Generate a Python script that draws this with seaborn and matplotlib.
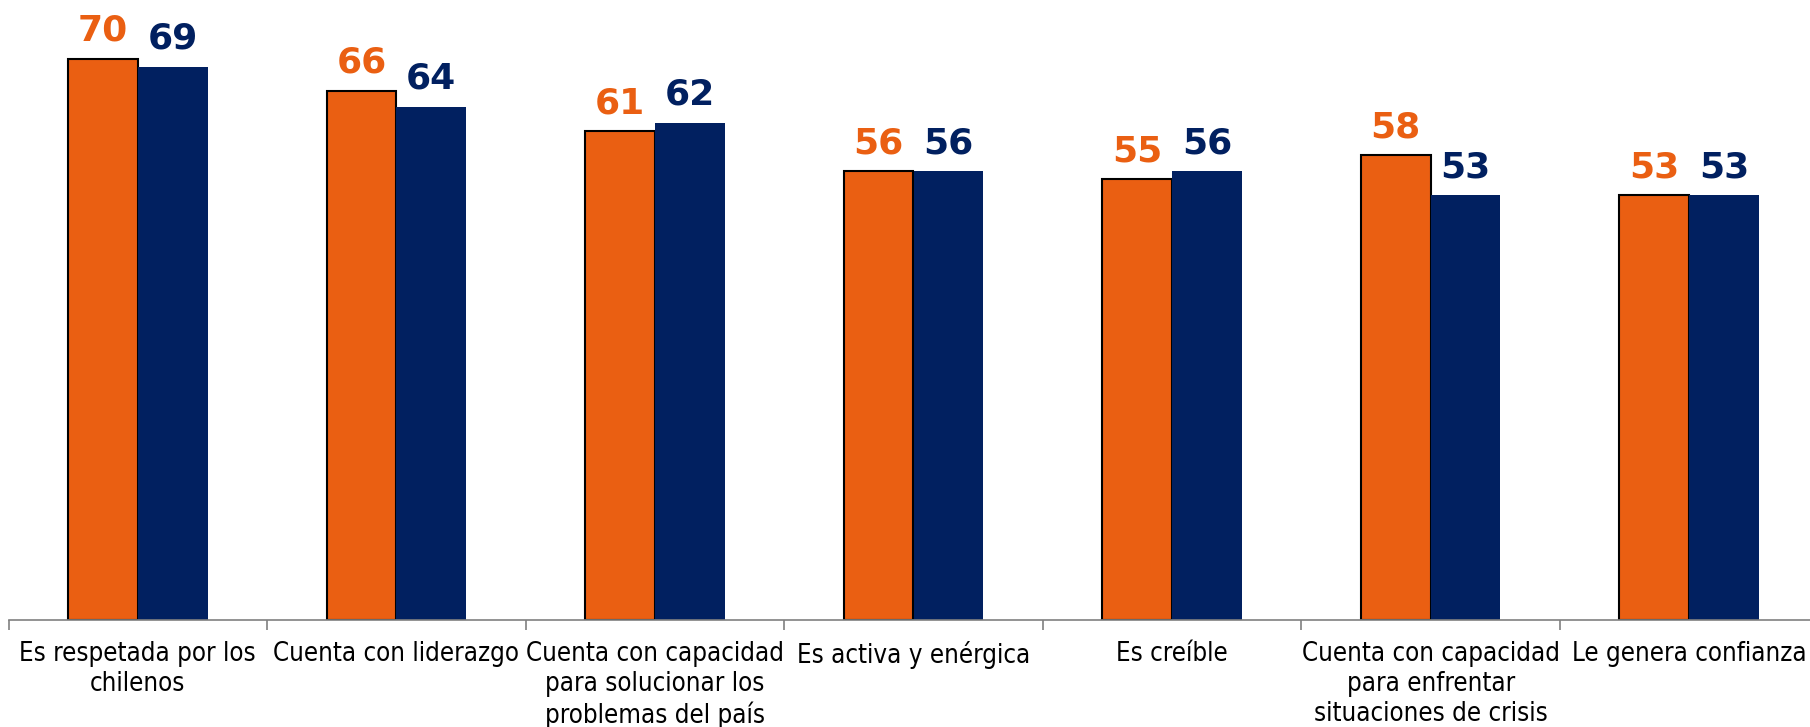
import pandas as pd
import seaborn as sns
import matplotlib.pyplot as plt
import numpy as np

# atributos evaluados
categorias = ["Es respetada por los\nchilenos", "Cuenta con liderazgo",
              "Cuenta con capacidad\npara solucionar los\nproblemas del país",
              "Es activa y enérgica", "Es creíble",
              "Cuenta con capacidad\npara enfrentar\nsituaciones de crisis",
              "Le genera confianza"]
serie_naranja = [70, 66, 61, 56, 55, 58, 53]
serie_azul = [69, 64, 62, 56, 56, 53, 53]
nombres_series = ["Serie 1", "Serie 2"]

naranja = "#EA5F12"
azul = "#012060"

df = pd.DataFrame({
    "categoria": categorias * 2,
    "valor": serie_naranja + serie_azul,
    "serie": [nombres_series[0]] * len(categorias) + [nombres_series[1]] * len(categorias),
})

sns.set_theme(style="white")
plt.rcParams["font.family"] = ["DejaVu Sans"]

fig = plt.figure(figsize=(18.1, 7.27), dpi=100)
ax = fig.add_axes([8.5 / 1810, 1 - 620 / 727, 1.0, 620 / 727])

sns.barplot(data=df, x="categoria", y="valor", hue="serie",
            palette=[naranja, azul], width=0.54, ax=ax, legend=False,
            saturation=1, linewidth=0)

# borde negro solo en las barras naranjas
for barra in ax.containers[0]:
    barra.set_edgecolor("black")
    barra.set_linewidth(1.5)

ax.bar_label(ax.containers[0], padding=8, color=naranja, fontsize=26, fontweight="bold")
ax.bar_label(ax.containers[1], padding=8, color=azul, fontsize=26, fontweight="bold")

ax.set_xlim(-0.5, len(categorias) - 0.5)
ax.set_ylim(0, 77.36)
ax.set_xlabel("")
ax.set_ylabel("")
ax.set_yticks([])
for s in ["top", "right", "left"]:
    ax.spines[s].set_visible(False)
ax.spines["bottom"].set_color("#808080")
ax.spines["bottom"].set_linewidth(1.2)

ax.set_xticks(range(len(categorias)))
ax.set_xticklabels(categorias, fontsize=18.5, fontstretch="condensed", color="black",
                   linespacing=1.2)
ax.set_xticks(np.arange(-0.5, len(categorias) + 0.5, 1), minor=True)
ax.tick_params(axis="x", which="major", length=0, pad=15)
ax.tick_params(axis="x", which="minor", length=7, width=1.2, color="#808080", direction="out", bottom=True)

fig.savefig("out.png", dpi=100)
